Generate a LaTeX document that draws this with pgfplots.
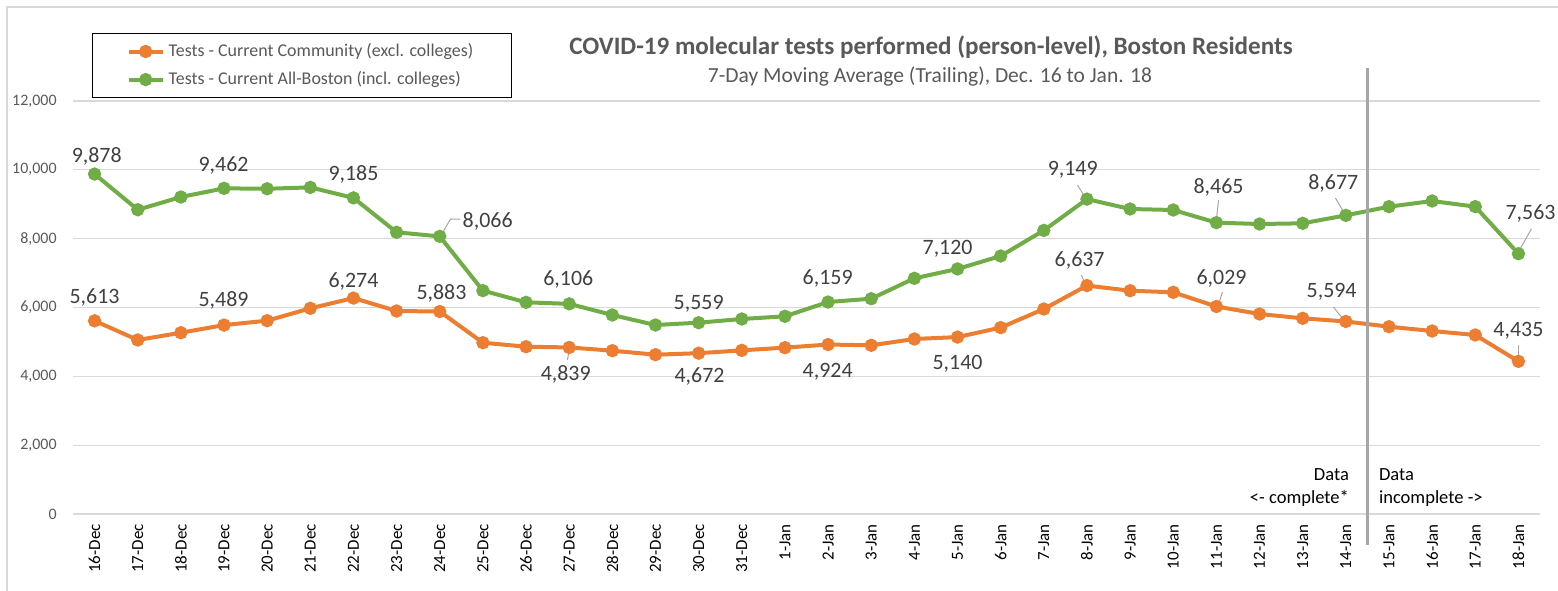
\documentclass[border=0pt]{standalone}
\usepackage{pgfplots}
\pgfplotsset{compat=1.18}
\usepackage{fontspec}
\setmainfont{Carlito}
\definecolor{cOr}{HTML}{ED7D31}
\definecolor{cGr}{HTML}{70AD47}
\definecolor{cLab}{HTML}{404040}
\definecolor{cTick}{HTML}{595959}
\definecolor{cGrid}{HTML}{D9D9D9}
\definecolor{cVl}{HTML}{A6A6A6}
\begin{document}
\begin{tikzpicture}
\path[use as bounding box] (0,0) rectangle (779bp,295.5bp);
\draw[cGrid, line width=0.75bp] (3.5bp,0) -- (3.5bp,292bp) -- (779bp,292bp);
\begin{axis}[
  at={(36.5bp,38.5bp)}, anchor=south west, scale only axis,
  width=733.5bp, height=206.5bp,
  xmin=-0.5, xmax=33.5, ymin=0, ymax=12000,
  clip=false,
  axis line style={draw=none},
  major tick length=0pt,
  ytick={0,2000,...,12000},
  scaled y ticks=false,
  ymajorgrids, grid style={cGrid, line width=0.6bp},
  xtick={0,...,33},
  xticklabels={16-Dec,17-Dec,18-Dec,19-Dec,20-Dec,21-Dec,22-Dec,23-Dec,24-Dec,25-Dec,26-Dec,27-Dec,28-Dec,29-Dec,30-Dec,31-Dec,1-Jan,2-Jan,3-Jan,4-Jan,5-Jan,6-Jan,7-Jan,8-Jan,9-Jan,10-Jan,11-Jan,12-Jan,13-Jan,14-Jan,15-Jan,16-Jan,17-Jan,18-Jan},
  x tick label style={rotate=90, anchor=east, inner sep=0pt, font=\fontsize{8.5}{9}\selectfont, text=black},
  xticklabel shift=5bp,
  y tick label style={anchor=east, inner sep=0pt, font=\fontsize{8}{9}\selectfont, text=cTick},
  yticklabel shift=8bp,
  /pgf/number format/1000 sep={,},
  /pgf/number format/assume math mode=true,
  legend style={at={(0.013,1.165)}, anchor=north west, draw=black, line width=0.6bp,
    font=\fontsize{9}{11}\selectfont, text=cTick, inner xsep=17bp, inner ysep=3bp,
    row sep=2bp, nodes={inner sep=2bp}},
  legend cell align=left,
]
\addplot[cOr, line width=2bp, mark=*, mark size=2.3bp, mark options={fill=cOr, draw=cOr}] coordinates {
(0,5613) (1,5056) (2,5267) (3,5489) (4,5617) (5,5976) (6,6274) (7,5898) (8,5883) (9,4977)
(10,4861) (11,4839) (12,4745) (13,4629) (14,4672) (15,4755) (16,4833) (17,4924) (18,4901) (19,5085)
(20,5140) (21,5416) (22,5956) (23,6637) (24,6488) (25,6441) (26,6029) (27,5811) (28,5686) (29,5594)
(30,5442) (31,5317) (32,5201) (33,4435)};
\addlegendentry{Tests - Current Community (excl. colleges)}
\addplot[cGr, line width=2bp, mark=*, mark size=2.3bp, mark options={fill=cGr, draw=cGr}] coordinates {
(0,9878) (1,8840) (2,9210) (3,9462) (4,9450) (5,9490) (6,9185) (7,8185) (8,8066) (9,6490)
(10,6150) (11,6106) (12,5782) (13,5491) (14,5559) (15,5666) (16,5744) (17,6159) (18,6256) (19,6848)
(20,7120) (21,7496) (22,8240) (23,9149) (24,8862) (25,8833) (26,8465) (27,8426) (28,8446) (29,8677)
(30,8930) (31,9094) (32,8930) (33,7563)};
\addlegendentry{Tests - Current All-Boston (incl. colleges)}

% vertical separator
\draw[cVl, line width=1.5bp] (axis cs:29.5,12960) -- (axis cs:29.5,-900);

% leader lines
\begin{scope}[cVl, line width=0.5bp]
\draw (axis cs:8.02,8078) -- (axis cs:8.25,8571) -- (axis cs:8.48,8571);
\draw (axis cs:22.78,9559) -- (axis cs:22.97,9182);
\draw (axis cs:26.05,9124) -- (axis cs:26.0,8542);
\draw (axis cs:28.76,9182) -- (axis cs:28.99,8688);
\draw (axis cs:33.30,8281) -- (axis cs:33.0,7613);
\draw (axis cs:11.01,4823) -- (axis cs:10.96,4475);
\draw (axis cs:22.87,6944) -- (axis cs:22.99,6596);
\draw (axis cs:26.14,6450) -- (axis cs:26.03,6015);
\draw (axis cs:28.71,6015) -- (axis cs:28.99,5579);
\draw (axis cs:33.0,4910) -- (axis cs:33.0,4533);
\end{scope}

% data labels
\begin{scope}[every node/.style={text=cLab, font=\fontsize{11}{12}\selectfont, inner sep=0pt}]
\node at (axis cs:0.05,10400) {9,878};
\node at (axis cs:2.99,10140) {9,462};
\node at (axis cs:6.0,9879) {9,185};
\node at (axis cs:9.11,8513) {8,066};
\node at (axis cs:10.98,6799) {6,106};
\node at (axis cs:14.0,6102) {5,559};
\node at (axis cs:16.99,6857) {6,159};
\node at (axis cs:19.77,7700) {7,120};
\node at (axis cs:22.67,9995) {9,149};
\node at (axis cs:26.05,9501) {8,465};
\node at (axis cs:28.71,9618) {8,677};
\node at (axis cs:33.28,8717) {7,563};
\node at (axis cs:0.0,6305) {5,613};
\node at (axis cs:2.99,6218) {5,489};
\node at (axis cs:6.0,6741) {6,274};
\node at (axis cs:8.04,6421) {5,883};
\node at (axis cs:10.92,4068) {4,839};
\node at (axis cs:14.02,3981) {4,672};
\node at (axis cs:16.99,4126) {4,924};
\node at (axis cs:20.0,4358) {5,140};
\node at (axis cs:22.83,7380) {6,637};
\node at (axis cs:26.12,6857) {6,029};
\node at (axis cs:28.67,6450) {5,594};
\node at (axis cs:33.0,5317) {4,435};
\end{scope}

\node[anchor=east, align=right, text=black, inner sep=0pt, font=\fontsize{9.3}{11.5}\selectfont] at (axis cs:29.08,770) {Data\\<- complete*};
\node[anchor=west, align=left, text=black, inner sep=0pt, font=\fontsize{9.3}{11.5}\selectfont] at (axis cs:29.76,770) {Data\\incomplete ->};
\end{axis}
\node[text=cTick, font=\fontsize{12.6}{14}\selectfont\bfseries, inner sep=0pt] at (465.5bp,272bp) {COVID-19 molecular tests performed (person-level), Boston Residents};
\node[text=cTick, font=\fontsize{10.8}{12}\selectfont, inner sep=0pt] at (465bp,257.5bp) {7-Day Moving Average (Trailing), Dec. 16 to Jan. 18};
\end{tikzpicture}
\end{document}
